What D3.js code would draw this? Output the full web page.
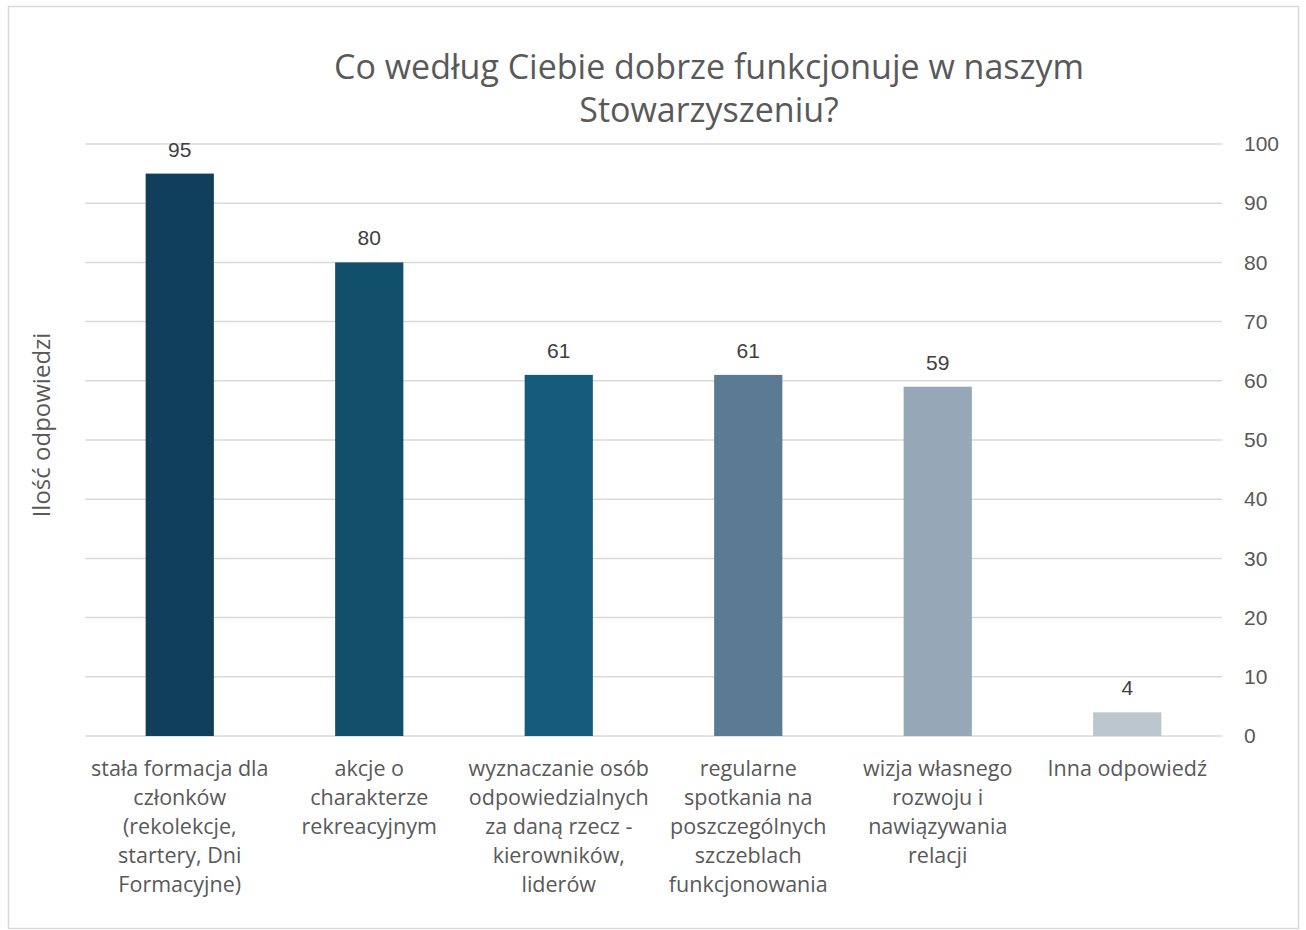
<!DOCTYPE html>
<html>
<head>
<meta charset="utf-8">
<script src="https://cdn.jsdelivr.net/npm/d3@7"></script>
<style>
  html, body { margin: 0; padding: 0; background: #fff; }
  svg { display: block; font-family: "Open Sans", sans-serif; }
</style>
</head>
<body>
<svg id="chart" width="1306" height="930"></svg>
<script>
// data
const categories = [
  ['stała formacja dla', 'członków', '(rekolekcje,', 'startery, Dni', 'Formacyjne)'],
  ['akcje o', 'charakterze', 'rekreacyjnym'],
  ['wyznaczanie osób', 'odpowiedzialnych', 'za daną rzecz -', 'kierowników,', 'liderów'],
  ['regularne', 'spotkania na', 'poszczególnych', 'szczeblach', 'funkcjonowania'],
  ['wizja własnego', 'rozwoju i', 'nawiązywania', 'relacji'],
  ['Inna odpowiedź']
];
const values = [95, 80, 61, 61, 59, 4];
const barColors = ['#0f3f5a', '#124f6b', '#155b7c', '#5b7b95', '#96a7b7', '#bcc6cf'];
const yTicks = [0, 10, 20, 30, 40, 50, 60, 70, 80, 90, 100];
const titleLines = ['Co według Ciebie dobrze funkcjonuje w naszym', 'Stowarzyszeniu?'];
const yTitle = 'Ilość odpowiedzi';

const svg = d3.select('#chart');
const plotLeft = 85, plotRight = 1222, plotTop = 144, plotBottom = 736;

// chart frame
svg.append('rect')
  .attr('x', 8.5).attr('y', 6.5)
  .attr('width', 1290).attr('height', 922)
  .attr('fill', '#fff')
  .attr('stroke', '#d9d9d9')
  .attr('stroke-width', 1.5);

const x = d3.scaleBand()
  .domain(d3.range(values.length))
  .range([plotLeft, plotRight])
  .paddingInner(0.64)
  .paddingOuter(0.32);

const y = d3.scaleLinear()
  .domain([0, 100])
  .range([plotBottom, plotTop]);

// gridlines
svg.append('g')
  .selectAll('line')
  .data(yTicks)
  .enter()
    .append('line')
    .attr('x1', plotLeft).attr('x2', plotRight)
    .attr('y1', d => y(d)).attr('y2', d => y(d))
    .attr('stroke', '#d9d9d9')
    .attr('stroke-width', 1.5);

// right axis labels
const yAxis = svg.append('g')
  .attr('transform', `translate(${plotRight}, 0)`)
  .call(d3.axisRight(y).tickValues(yTicks).tickSize(0).tickPadding(22));
yAxis.select('.domain').remove();
yAxis.selectAll('text')
  .attr('font-size', 21)
  .attr('font-family', '"Liberation Sans", Arial, sans-serif')
  .attr('fill', '#595959');

// bars
svg.append('g')
  .selectAll('rect')
  .data(values)
  .enter()
    .append('rect')
    .attr('x', (d, i) => x(i))
    .attr('y', d => y(d))
    .attr('width', x.bandwidth())
    .attr('height', d => y(0) - y(d))
    .attr('fill', (d, i) => barColors[i]);

// data labels
svg.append('g')
  .selectAll('text')
  .data(values)
  .enter()
    .append('text')
    .attr('x', (d, i) => x(i) + x.bandwidth() / 2)
    .attr('y', d => y(d) - 17)
    .attr('text-anchor', 'middle')
    .attr('font-size', 21)
    .attr('font-family', '"Liberation Sans", Arial, sans-serif')
    .attr('fill', '#404040')
    .text(d => d);

// category labels, one tspan per line
const catText = svg.append('g')
  .selectAll('text')
  .data(categories)
  .enter()
    .append('text')
    .attr('text-anchor', 'middle')
    .attr('font-size', 21.5)
    .attr('fill', '#595959');

catText.selectAll('tspan')
  .data((d, i) => d.map(line => ({ line, i })))
  .enter()
    .append('tspan')
    .attr('x', d => x(d.i) + x.bandwidth() / 2)
    .attr('y', (d, j) => 776 + j * 29)
    .text(d => d.line);

// y title
svg.append('text')
  .attr('transform', 'translate(50, 425) rotate(-90)')
  .attr('text-anchor', 'middle')
  .attr('font-size', 24)
  .attr('fill', '#595959')
  .text(yTitle);

// chart title
svg.append('g')
  .selectAll('text')
  .data(titleLines)
  .enter()
    .append('text')
    .attr('x', 709)
    .attr('y', (d, i) => 79 + i * 43)
    .attr('text-anchor', 'middle')
    .attr('font-size', 34)
    .attr('fill', '#595959')
    .text(d => d);
</script>
</body>
</html>
